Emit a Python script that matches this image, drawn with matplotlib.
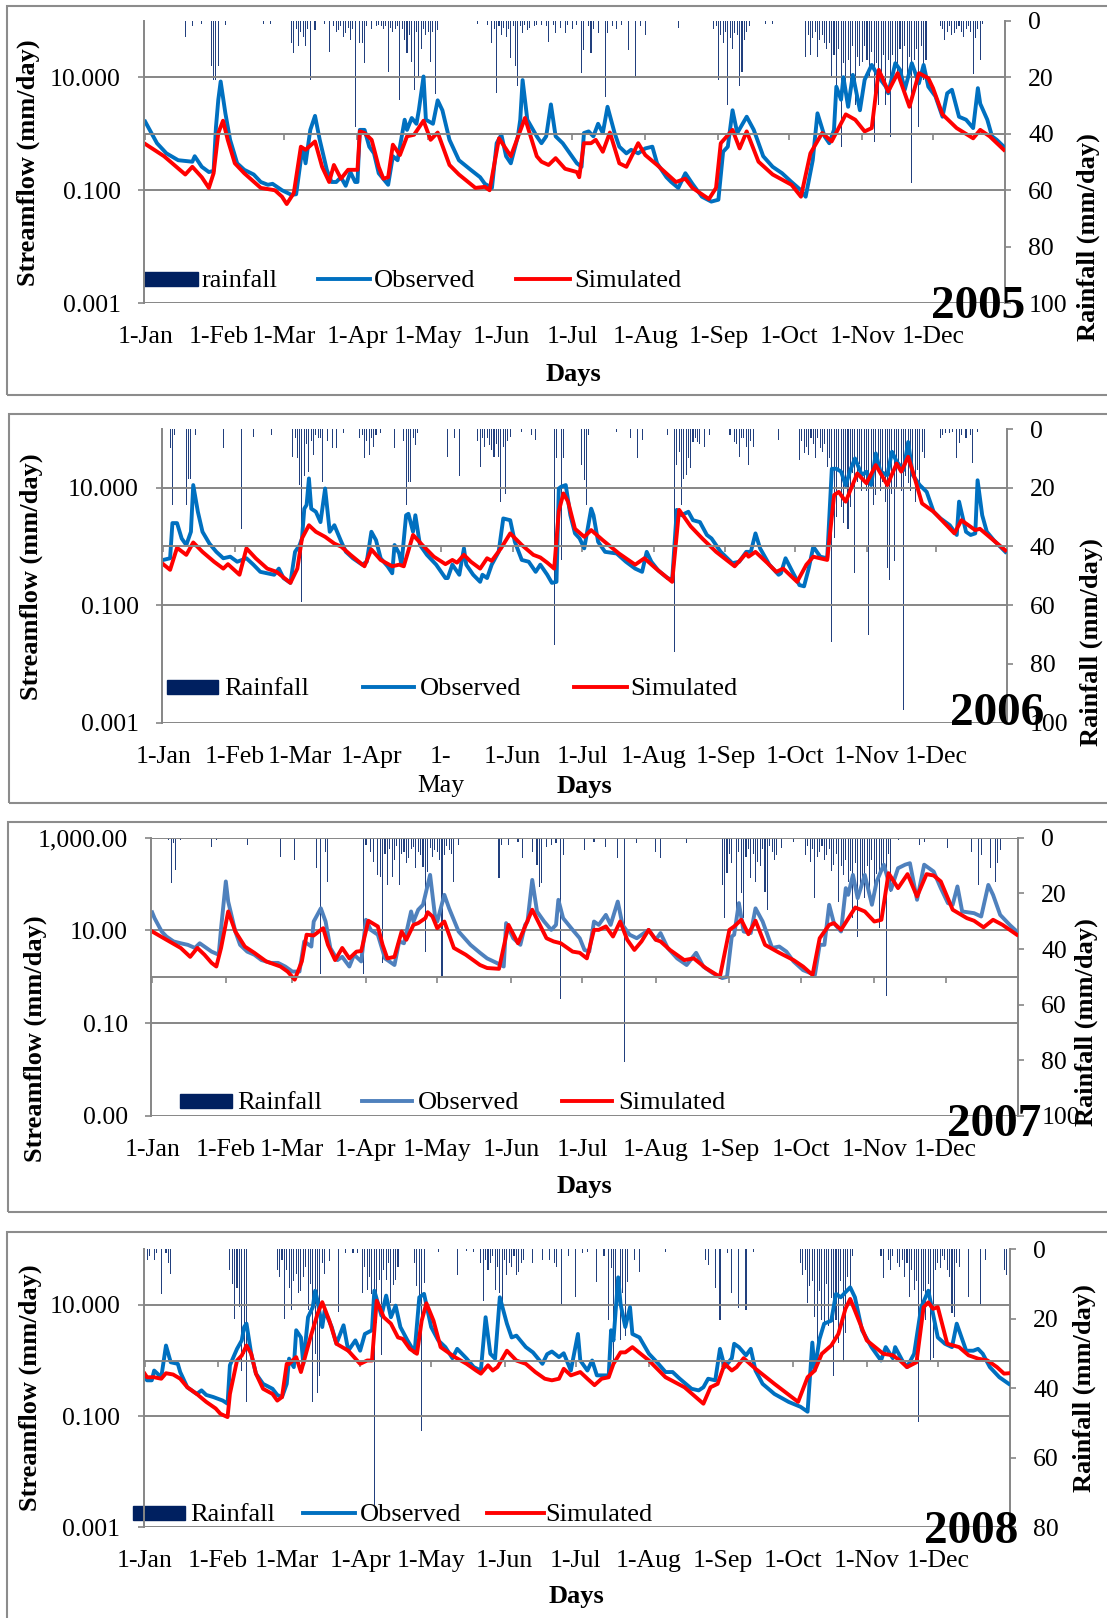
import matplotlib
matplotlib.use('Agg')
import matplotlib.pyplot as plt
import matplotlib.transforms as mtransforms
from matplotlib.patches import Rectangle
from matplotlib.lines import Line2D
from matplotlib.ticker import FixedLocator, NullLocator

plt.rcParams['font.family'] = ['Liberation Serif', 'DejaVu Serif']

# ---- data: (day of year from 1-Jan, value) ----
# streamflow in mm/day, rainfall in mm/day
obs05 = [(0,1.64),(5,0.68),(9,0.45),(14,0.34),(20,0.32),(21,0.40),(24,0.26),(27,0.21),(29,0.22),(30,1.3),(31,4.0),(32,8.4),(34,2.3),(36,0.78),(39,0.30),(42,0.23),(46,0.19),(49,0.14),(52,0.125),(54,0.13),(58,0.10),(62,0.083),(64,0.085),(66,0.35),(67,0.51),(68,0.30),(70,1.17),(72,2.07),(74,0.78),(77,0.23),(79,0.14),(81,0.14),(83,0.17),(85,0.12),(87,0.21),(89,0.14),(90,0.14),(91,1.17),(93,1.17),(95,0.59),(97,0.45),(99,0.20),(103,0.125),(105,0.40),(107,0.34),(110,1.77),(111,1.17),(113,1.9),(115,1.5),(116,2.6),(118,10.3),(119,1.77),(122,1.5),(124,3.9),(126,2.6),(129,0.78),(133,0.34),(138,0.23),(142,0.17),(144,0.13),(147,0.11),(149,0.68),(151,0.96),(153,0.40),(155,0.30),(158,0.90),(159,1.77),(160,8.9),(162,1.77),(166,0.90),(168,0.68),(170,0.90),(172,3.3),(174,0.90),(177,0.68),(180,0.45),(183,0.30),(185,0.26),(186,1.03),(188,1.1),(190,0.90),(192,1.5),(194,1.03),(196,3.0),(199,1.03),(201,0.59),(204,0.45),(206,0.52),(209,0.45),(212,0.55),(215,0.59),(217,0.30),(221,0.17),(223,0.14),(226,0.11),(229,0.20),(232,0.13),(236,0.077),(240,0.063),(243,0.068),(245,0.48),(247,0.59),(249,2.6),(251,1.03),(255,2.0),(258,1.17),(262,0.40),(266,0.26),(270,0.20),(274,0.14),(278,0.10),(280,0.077),(283,0.34),(285,2.3),(288,0.90),(290,0.68),(292,1.17),(293,6.8),(295,4.0),(296,10.0),(298,3.0),(300,11.0),(303,2.6),(305,9.0),(308,16.5),(311,10.0),(314,6.8),(315,5.2),(318,17.7),(320,13.5),(322,6.0),(325,17.7),(328,7.8),(330,16.5),(332,6.8),(335,4.6),(338,2.0),(340,5.2),(342,6.0),(345,2.0),(348,1.77),(351,1.26),(353,6.4),(354,3.4),(357,1.77),(359,0.90),(361,0.78),(364,0.59)]
sim05 = [(0,0.66),(8,0.40),(17,0.19),(20,0.26),(24,0.17),(27,0.11),(29,0.20),(31,1.03),(33,1.7),(35,0.78),(38,0.30),(42,0.20),(49,0.11),(55,0.10),(58,0.077),(60,0.057),(63,0.089),(66,0.59),(68,0.52),(72,0.73),(75,0.26),(78,0.14),(80,0.28),(83,0.16),(86,0.23),(90,0.23),(91,1.1),(93,1.03),(96,0.78),(99,0.26),(101,0.16),(103,0.17),(105,0.64),(108,0.42),(111,0.90),(114,0.96),(118,1.7),(121,0.78),(124,1.05),(129,0.28),(133,0.19),(140,0.11),(144,0.115),(146,0.10),(150,0.83),(155,0.40),(161,1.9),(166,0.40),(168,0.32),(171,0.28),(174,0.37),(178,0.24),(183,0.21),(184,0.17),(186,0.68),(189,0.68),(191,0.78),(194,0.48),(197,1.05),(201,0.30),(204,0.26),(209,0.68),(212,0.42),(217,0.28),(225,0.14),(229,0.16),(232,0.11),(239,0.07),(242,0.11),(244,0.68),(249,1.17),(252,0.55),(255,1.1),(260,0.32),(266,0.19),(274,0.125),(278,0.077),(282,0.45),(287,1.03),(291,0.73),(297,2.2),(301,1.77),(305,1.1),(308,1.26),(311,13.5),(315,5.6),(319,11.8),(324,3.0),(328,11.8),(332,9.6),(334,6.4),(338,2.2),(344,1.26),(351,0.83),(354,1.17),(358,0.90),(364,0.52)]
rain05 = [(17,5.7),(20,2),(24,1),(28,16),(29,21),(30,21),(31,16),(34,1.5),(50,1),(53,1),(62,8),(63,11.6),(64,3),(65,9),(66,4),(67,5.7),(68,9),(69,3),(70,21),(72,3.3),(76,1),(78,11),(80,2),(81,4),(82,3.3),(83,2),(84,5.7),(85,4.5),(86,2.5),(87,7),(88,3),(89,37.5),(91,8),(92,8),(93,15),(94,2),(96,3),(98,2),(99,1.5),(100,2),(101,3),(102,2),(103,18),(104,2.5),(105,4),(106,3),(107,2),(108,28),(109,3),(110,7),(111,11.6),(112,5),(113,14.5),(114,24.5),(115,4),(116,20),(117,10),(118,3),(119,5),(120,4),(121,14.5),(122,4),(123,26),(124,3.3),(141,1),(145,1.5),(147,8),(148,3),(149,25.7),(150,2),(151,5),(152,2.5),(153,5.7),(154,3),(155,13.3),(156,2),(157,16),(158,23),(159,2),(160,4.5),(161,1.5),(162,3.3),(163,2.5),(165,2),(166,1.5),(168,1.5),(170,2),(171,7.4),(173,1.5),(174,4.5),(176,2.5),(178,4.5),(179,1.5),(181,3),(183,1.5),(185,18.6),(186,10.4),(188,2),(189,11.6),(190,3),(192,4.5),(195,27),(196,4.5),(198,2),(200,3),(202,1.5),(205,10.4),(208,20),(210,2),(212,5),(226,2.7),(241,3),(242,2),(243,21),(244,5),(245,8),(246,4),(247,30),(248,6),(249,10),(250,4.5),(251,5),(252,23),(253,18),(254,7),(255,4),(256,2),(263,1),(266,1),(280,12.7),(281,5),(282,12),(283,6),(284,4),(285,12.7),(286,7),(287,5),(288,8),(289,10),(290,8),(291,20),(292,12),(293,25.7),(294,10),(295,44.6),(296,15),(297,23),(298,14),(299,28),(300,9),(301,30),(302,13),(303,16),(304,14.5),(305,9),(306,14),(307,20),(308,11),(309,43),(310,15),(311,30),(312,18),(313,12),(314,30),(315,14),(316,41),(317,12),(318,16),(319,18),(320,10),(321,21),(322,9),(323,21),(324,13),(325,57.5),(326,14),(327,10),(328,37.5),(329,9),(330,21),(331,14),(337,2),(338,3),(339,7),(340,4),(341,2),(342,5),(343,4.5),(344,3),(345,2),(346,4),(347,5.7),(348,3),(349,2),(350,4),(351,19),(352,6),(353,3),(354,14),(355,1)]

obs06 = [(0,0.59),(3,0.63),(4,2.5),(6,2.5),(8,1.37),(10,1.06),(12,1.78),(13,11.1),(15,3.9),(17,1.78),(20,1.12),(23,0.81),(26,0.63),(29,0.67),(32,0.55),(36,0.63),(39,0.49),(42,0.37),(45,0.35),(48,0.33),(50,0.42),(52,0.29),(55,0.24),(57,0.81),(59,1.06),(60,1.37),(61,4.4),(62,5.1),(63,14.4),(64,4.4),(66,3.9),(68,2.6),(70,9.7),(72,1.78),(74,2.3),(77,1.2),(79,0.81),(82,0.63),(86,0.49),(88,0.55),(90,1.78),(92,1.28),(94,0.63),(97,0.46),(99,0.35),(100,1.06),(102,0.76),(103,0.49),(105,3.4),(106,3.6),(108,1.78),(109,3.4),(111,1.06),(114,0.72),(118,0.49),(122,0.29),(123,0.29),(125,0.49),(128,0.33),(130,0.93),(131,0.49),(134,0.33),(137,0.25),(138,0.33),(140,0.29),(142,0.49),(145,0.81),(147,3.0),(150,2.8),(152,1.2),(155,0.59),(158,0.55),(161,0.37),(163,0.49),(166,0.33),(168,0.24),(170,0.25),(171,9.7),(172,10.4),(174,11.1),(176,3.4),(178,1.67),(180,1.37),(182,0.93),(185,4.4),(186,3.4),(188,1.2),(191,0.81),(196,0.76),(200,0.55),(204,0.42),(207,0.37),(209,0.81),(211,0.55),(214,0.39),(218,0.29),(220,0.27),(222,4.2),(224,3.4),(227,3.9),(229,2.8),(232,2.6),(235,1.57),(237,1.37),(241,0.81),(246,0.52),(249,0.55),(252,0.81),(254,0.81),(256,1.67),(258,0.93),(262,0.49),(266,0.33),(267,0.35),(269,0.63),(272,0.37),(275,0.22),(277,0.21),(279,0.42),(281,0.99),(284,0.67),(287,0.63),(289,21.0),(291,21.0),(293,18.8),(295,11.0),(297,20.0),(299,31.5),(302,16.4),(304,18.8),(306,11.1),(308,38.4),(310,18.8),(313,16.4),(315,41.0),(317,28.0),(320,20.0),(322,60.0),(324,16.4),(327,11.1),(330,8.5),(333,3.9),(336,3.0),(340,2.3),(343,1.57),(344,5.8),(347,1.78),(349,1.57),(351,1.67),(352,13.4),(354,3.4),(356,1.78),(359,1.28),(364,0.81)]
sim06 = [(0,0.50),(3,0.40),(6,0.95),(10,0.72),(13,1.17),(17,0.81),(22,0.55),(26,0.42),(28,0.50),(33,0.33),(36,0.93),(40,0.63),(45,0.42),(49,0.37),(55,0.24),(58,0.42),(60,1.37),(63,2.3),(66,1.78),(70,1.46),(74,1.12),(77,0.99),(81,0.72),(87,0.46),(90,0.89),(94,0.59),(99,0.46),(102,0.49),(104,0.46),(108,1.57),(112,1.06),(117,0.67),(122,0.50),(125,0.59),(127,0.53),(130,0.72),(133,0.55),(137,0.42),(140,0.63),(142,0.57),(146,0.93),(150,1.67),(155,1.06),(160,0.72),(163,0.65),(166,0.53),(169,0.42),(171,4.0),(173,8.0),(175,5.8),(178,2.0),(182,1.46),(185,1.9),(190,1.28),(197,0.76),(204,0.49),(208,0.63),(213,0.42),(220,0.25),(223,4.2),(228,2.2),(233,1.37),(239,0.81),(247,0.46),(252,0.76),(253,0.67),(256,0.81),(261,0.53),(265,0.37),(268,0.42),(274,0.25),(278,0.49),(281,0.67),(287,0.59),(290,7.5),(292,8.5),(295,5.8),(300,17.5),(304,11.9),(308,24.3),(313,11.1),(317,25.8),(319,18.8),(322,33.7),(324,18.8),(328,5.4),(333,3.9),(342,1.67),(345,2.8),(351,1.9),(353,2.0),(364,0.86)]
rain06 = [(3,6.6),(4,26),(5,2),(10,26),(11,17),(12,17),(14,2),(26,6.6),(34,34),(39,2.6),(47,2),(56,9.4),(57,3),(58,10),(59,19),(60,59),(61,16),(62,5),(63,14.5),(64,4),(65,8.9),(66,2),(67,3.2),(68,3),(69,18),(71,4),(73,6.6),(75,6.6),(78,1.5),(85,3),(86,2),(87,10),(88,4),(89,8.9),(90,3),(91,6),(92,2),(94,1.5),(100,6.6),(104,4),(105,26),(106,18),(107,18),(108,3),(109,5.4),(110,1.5),(123,9.4),(126,3.2),(128,16),(136,4),(137,12.8),(138,3.2),(139,6),(140,3),(141,5.4),(142,7),(143,9.4),(144,5),(145,9.4),(146,25),(147,6),(148,22),(149,4),(150,2.6),(155,1),(159,2),(161,3.7),(169,73.5),(170,10),(172,44.6),(173,10),(181,12.3),(182,17.4),(183,26),(184,2),(196,1),(202,3.2),(205,10),(207,3.7),(218,2),(221,76),(222,12.3),(223,8),(224,26),(225,17),(226,15.7),(227,10),(228,13.4),(229,4.3),(230,3),(231,4.3),(232,5),(234,6),(236,2),(245,2),(247,4.3),(248,5),(249,9.4),(250,3),(251,3.2),(252,6),(253,12.3),(254,4),(255,6),(266,3.7),(275,10.6),(276,4),(277,8.3),(278,6),(279,8.9),(280,3.2),(281,5),(282,10),(283,3),(284,6.6),(285,8),(286,5),(287,12.8),(288,10),(289,72.4),(290,37),(291,30),(292,14),(293,26.4),(294,32),(295,20),(296,34),(297,26.4),(298,15),(299,49),(300,18),(301,12),(302,21),(303,17),(304,21),(305,70),(306,16),(307,26),(308,22.5),(309,14),(310,21),(311,18),(312,25),(313,47.4),(314,51.4),(315,22),(316,45),(317,20),(318,14),(319,21),(320,95.7),(321,16),(322,18.5),(323,21),(324,12),(325,25),(326,14),(327,19),(328,8),(329,10),(336,3.2),(337,2),(338,1.5),(340,1.5),(341,1),(343,10),(344,4.9),(345,2),(347,3),(349,2),(350,11.7),(352,1)]

obs07 = [(0,24.5),(1,18.4),(4,9.5),(6,7.4),(9,5.8),(12,5.3),(15,4.9),(18,4.2),(20,5.3),(22,4.5),(25,3.5),(28,3.0),(29,11.2),(31,114),(32,42),(35,9.5),(37,4.9),(40,3.5),(43,3.0),(46,2.3),(50,2.0),(53,2.0),(56,1.67),(59,1.3),(62,1.3),(64,5.8),(67,4.5),(68,15.6),(71,30),(73,15.6),(75,4.2),(78,2.3),(80,2.7),(83,1.67),(85,3.0),(88,2.15),(90,17),(92,10.3),(95,8.1),(98,2.5),(102,1.8),(104,5.8),(106,5.3),(109,25.7),(110,15.6),(112,28),(114,35.8),(117,158),(119,21.7),(120,15.6),(123,58.6),(125,30),(129,9.5),(134,4.9),(138,3.3),(141,2.5),(145,2.0),(148,1.67),(149,14.4),(152,6.8),(155,4.9),(157,13.2),(158,15.6),(160,123),(162,25.7),(165,15.6),(168,10.3),(170,13.2),(171,45.8),(173,18.4),(177,10.3),(180,6.8),(182,3.8),(184,3.5),(186,15.6),(188,13.2),(191,21.7),(193,13.2),(196,42),(198,13.2),(201,8.1),(204,6.8),(209,10.3),(212,6.3),(214,8.8),(217,4.2),(221,2.5),(225,1.8),(229,3.3),(232,1.67),(236,1.2),(240,0.94),(242,1.0),(244,7.4),(245,8.1),(247,38.9),(249,9.5),(252,8.8),(254,30),(257,15.6),(261,4.2),(264,4.5),(267,3.5),(270,2.15),(274,1.4),(279,1.1),(281,4.9),(283,4.9),(285,35.8),(287,14.4),(290,9.5),(292,81.8),(293,58.6),(295,158),(297,49.7),(300,158),(303,35.8),(305,114),(308,262),(311,75),(314,220),(317,262),(319,282),(322,45.8),(325,262),(327,220),(329,186),(332,81.8),(335,38.9),(337,35.8),(339,89),(341,25.7),(346,23.6),(349,20),(352,96),(354,58.6),(357,21.7),(361,13.2),(364,9.5)]
sim07 = [(0,9.5),(6,6.3),(12,4.2),(16,2.7),(19,4.2),(22,3.0),(25,2.0),(27,1.67),(29,4.2),(32,25.7),(35,9.5),(39,4.5),(43,3.3),(48,2.15),(54,1.67),(57,1.3),(60,0.87),(63,2.15),(65,8.1),(68,7.8),(72,11.2),(74,4.9),(77,2.3),(80,4.2),(83,2.5),(86,3.5),(88,3.6),(91,16.2),(95,12.2),(97,4.9),(99,2.5),(102,2.7),(105,9.5),(107,6.3),(110,13.2),(112,14.4),(115,18.4),(116,24.8),(118,20),(120,11.2),(123,15.6),(127,4.2),(132,3.0),(138,1.8),(141,1.55),(146,1.49),(150,13.2),(154,5.3),(160,28),(166,6.8),(169,5.8),(172,5.3),(177,3.5),(180,3.3),(183,2.5),(186,10.3),(188,10.3),(191,12.2),(194,7.4),(197,15.6),(200,6.3),(203,3.8),(206,5.8),(209,10.3),(212,6.3),(214,5.8),(218,3.8),(224,2.3),(228,2.5),(233,1.55),(239,1.0),(243,10.3),(245,12.2),(248,17),(251,8.3),(254,16.2),(258,4.9),(264,3.3),(270,2.3),(274,1.67),(278,1.1),(281,6.8),(285,13.2),(287,14.4),(290,10.3),(296,31.3),(300,25.7),(304,15.6),(307,17),(310,172),(314,81.8),(318,164),(322,54),(326,164),(329,153),(332,114),(337,28),(343,18.4),(346,16.2),(350,11.7),(354,17),(358,13.2),(364,8.1)]
rain07 = [(7,1),(8,16.4),(9,2),(10,11.6),(12,1),(25,3.2),(27,1),(40,2.6),(54,6.8),(60,8),(69,11),(71,49),(73,5),(74,15.8),(89,49),(90,2.6),(92,5),(93,8.6),(95,13.4),(96,14),(97,45),(98,6),(99,17),(100,4),(101,14),(102,8),(103,3),(104,17),(105,6),(106,5),(107,9),(108,7.4),(109,4),(110,3.2),(111,11),(112,5),(113,6.2),(114,10.4),(115,41),(116,12.2),(117,3.8),(118,7),(119,4.4),(120,5),(121,8),(122,50),(123,6.2),(124,3),(125,4.4),(126,6),(127,15.8),(129,2.6),(146,14.6),(147,2.6),(150,2.6),(154,1.4),(156,7.4),(160,5),(162,9.8),(163,17.6),(164,16.4),(166,3.2),(168,2.6),(170,2),(172,58),(173,6.2),(182,4.4),(186,1.4),(191,3.2),(196,7.4),(199,80.5),(204,2),(212,5),(214,7.4),(225,2),(240,17),(241,29),(242,12.8),(243,6),(244,9),(246,26.6),(247,5),(248,20),(249,29),(250,7),(251,4),(252,14.6),(253,6),(254,15.8),(255,8.6),(256,10),(257,4),(258,19.4),(259,26),(260,3),(261,5),(262,8),(263,6.2),(265,3.8),(270,1.4),(275,6.2),(276,3),(277,8.6),(278,4),(279,21.8),(280,7),(281,5),(282,3),(283,8),(284,6.2),(285,4),(286,12),(287,9.8),(288,6),(289,23),(290,10),(291,13.4),(292,8),(293,15.8),(294,12),(295,29),(296,9),(297,35.6),(298,17),(299,14),(300,21.8),(301,10),(302,19.4),(303,8),(304,21.8),(305,13),(306,32.6),(307,11),(308,9),(309,57),(310,6),(311,19.4),(314,1),(323,2.6),(325,1.4),(335,3.8),(345,5),(348,17),(349,6.2),(353,11),(355,15.8),(356,9.2),(357,4.4)]

obs08 = [(0,0.50),(1,0.44),(3,0.44),(4,0.66),(7,0.50),(9,1.86),(11,0.93),(14,0.87),(15,0.62),(18,0.33),(22,0.25),(24,0.29),(26,0.24),(29,0.22),(33,0.19),(35,0.167),(36,0.82),(39,1.62),(41,2.3),(42,4.0),(43,4.6),(45,1.32),(47,0.58),(50,0.38),(54,0.31),(56,0.24),(58,0.22),(60,0.38),(61,1.08),(63,0.76),(64,3.5),(66,2.6),(67,0.87),(69,6.0),(71,9.1),(72,18),(73,11.9),(75,4.0),(76,7.9),(79,4.0),(81,2.0),(84,4.3),(86,1.5),(89,2.3),(91,1.5),(93,3.0),(96,3.5),(97,18),(100,6.4),(102,14.7),(104,6.0),(106,9.7),(108,4.0),(111,2.3),(114,1.4),(116,13.7),(118,15.8),(121,4.0),(124,2.3),(127,1.74),(130,1.1),(132,1.62),(136,1.08),(139,0.76),(142,0.66),(144,6.0),(146,1.32),(148,1.08),(150,13.7),(153,4.6),(155,2.6),(157,2.8),(161,1.74),(164,1.4),(168,0.87),(170,1.3),(172,1.45),(175,1.15),(177,1.35),(180,0.66),(183,3.0),(184,1.0),(187,0.66),(189,1.0),(191,0.54),(193,0.54),(196,0.54),(197,3.5),(198,2.3),(200,31.3),(201,10.4),(203,4.0),(205,9.1),(206,3.0),(209,2.6),(213,1.32),(217,0.87),(220,0.62),(223,0.62),(226,0.47),(231,0.31),(234,0.29),(236,0.33),(238,0.47),(241,0.44),(243,1.62),(245,0.76),(248,1.1),(249,2.0),(251,1.74),(254,1.24),(256,1.62),(258,0.66),(261,0.38),(266,0.25),(272,0.18),(277,0.147),(280,0.12),(282,2.1),(283,0.66),(285,2.4),(287,4.6),(290,5.2),(292,15.8),(294,13.7),(296,16.9),(298,20.7),(300,13.7),(303,3.5),(307,1.74),(311,1.0),(313,1.74),(316,1.1),(317,1.74),(320,1.0),(322,0.76),(325,1.32),(328,9.1),(331,18),(333,6.9),(335,2.6),(338,2.0),(341,1.74),(343,4.6),(347,1.5),(350,1.5),(352,1.62),(354,1.32),(357,0.76),(361,0.50),(365,0.38)]
sim08 = [(0,0.58),(1,0.50),(4,0.50),(7,0.47),(9,0.59),(12,0.56),(15,0.47),(18,0.33),(22,0.25),(26,0.18),(30,0.137),(32,0.11),(35,0.096),(36,0.25),(39,1.0),(41,1.23),(43,1.86),(45,1.32),(47,0.58),(50,0.31),(54,0.25),(56,0.19),(58,0.22),(60,0.87),(61,0.87),(64,1.15),(66,0.62),(70,2.6),(73,6.9),(75,11.2),(78,5.2),(81,2.0),(86,1.5),(91,0.87),(94,1.0),(96,1.0),(98,11.9),(101,6.0),(104,4.6),(107,2.6),(109,2.45),(112,1.62),(115,1.32),(117,5.2),(119,10.7),(122,5.2),(125,1.74),(131,1.15),(136,0.87),(140,0.66),(142,0.58),(145,0.82),(147,0.66),(149,0.76),(153,1.5),(157,1.0),(161,0.87),(165,0.62),(169,0.47),(172,0.44),(175,0.47),(177,0.71),(180,0.54),(184,0.62),(187,0.47),(190,0.36),(193,0.47),(196,0.50),(198,0.87),(201,1.4),(203,1.4),(206,1.74),(213,1.0),(220,0.50),(228,0.33),(236,0.167),(239,0.33),(242,0.38),(245,0.87),(248,0.66),(250,0.76),(253,1.1),(258,0.71),(266,0.38),(276,0.18),(280,0.50),(283,0.66),(286,1.32),(290,1.86),(293,3.0),(296,8.5),(298,12.8),(300,7.9),(305,2.3),(312,1.32),(316,1.24),(319,1.0),(322,0.76),(326,0.93),(329,9.1),(331,11.1),(333,8.5),(335,9.1),(339,2.0),(344,1.74),(348,1.24),(352,1.08),(356,1.0),(360,0.76),(363,0.58),(365,0.59)]
rain08 = [(1,3),(2,2),(4,3),(5,1),(7,13),(9,1.2),(10,4),(11,7),(36,6),(37,10),(38,20),(39,11),(40,16.5),(41,35),(42,30),(43,44),(56,6),(57,8),(58,3),(59,20),(60,6),(61,11),(62,17.5),(63,9),(64,7),(65,12.7),(66,12),(67,8),(68,5),(69,17.5),(70,10),(71,44),(72,30),(73,41.4),(74,36.6),(75,4),(76,7),(78,3.5),(82,18),(85,1.2),(88,1.2),(90,1.2),(92,12.7),(93,5),(94,11.7),(95,8),(96,13),(97,73.5),(98,21.3),(99,8.8),(100,30.4),(101,6),(102,8.8),(103,4),(104,15.5),(105,10.3),(106,8.8),(107,5),(114,4),(115,10.7),(116,16.5),(117,52.4),(118,9.8),(124,0.7),(132,7.4),(136,0.5),(139,0.7),(142,4),(143,15),(144,3),(145,6),(146,4),(147,2),(148,11.7),(149,5),(150,12.7),(151,15.5),(152,3),(153,7.4),(154,4),(155,5),(156,2),(157,7.4),(158,6.4),(159,4),(160,3),(164,4),(168,3),(171,3),(173,4),(174,5),(176,16),(179,2),(182,13.6),(185,1.2),(187,0.7),(191,9.3),(194,2),(196,20.3),(197,5.5),(198,33.7),(199,18.4),(201,26),(202,12.7),(203,25),(204,9.3),(207,3),(209,6.4),(220,0.7),(237,3),(238,4.5),(241,11.2),(243,20.3),(246,1.2),(248,12.7),(251,17),(254,17.5),(257,0.7),(277,4),(278,7.4),(279,6),(280,15.5),(281,10.7),(282,9),(283,19.4),(284,27),(285,12),(286,20.3),(287,21.3),(288,10),(289,22.2),(290,14),(291,36.6),(292,20.3),(293,27),(294,9),(295,32.3),(296,24.2),(297,8),(298,11.7),(299,2),(311,2),(312,8.3),(314,3),(315,6),(316,2),(318,4),(319,5),(320,3),(321,7.9),(322,4),(323,13.6),(324,6),(325,11.7),(326,9),(327,49.6),(328,15.5),(329,12),(330,20.3),(331,10),(332,31.8),(333,31.4),(334,6),(335,4),(336,5.5),(337,2),(338,3),(339,6),(340,8),(341,18.4),(342,19.4),(343,4),(344,5),(348,13.6),(353,16),(355,3),(363,6),(364,7.4)]

months = ['1-Jan', '1-Feb', '1-Mar', '1-Apr', '1-May', '1-Jun',
          '1-Jul', '1-Aug', '1-Sep', '1-Oct', '1-Nov', '1-Dec']
months06 = months[:4] + ['1-\nMay'] + months[5:]
month_start = [0, 31, 59, 90, 120, 151, 181, 212, 243, 273, 304, 334]
month_start_leap = [0, 31, 60, 91, 121, 152, 182, 213, 244, 274, 305, 335]

# ---- layout (pixel positions on the 1107x1618 canvas) ----
W, H = 1107, 1618
GREY = '#868686'
NAVY = '#002060'
BARC = '#22407e'
RED = '#ff0000'
FS = 18.5
LW = 2.8


def fx(x):
    return x / W


def fy(y):
    return 1 - y / H


panels = [
    dict(year='2005', obs=obs05, sim=sim05, rain=rain05, ndays=365, starts=month_start, labels=months,
         ytop=100, yticks=[0.001, 0.1, 10], ylabels=['0.001', '0.100', '10.000'],
         rticks=[0, 20, 40, 60, 80, 100], rname='rainfall', obs_color='#0070c0',
         box=(6.7, 6, 395), plot=(144, 20.7, 1005, 303.3),
         ylab=(28, 163), rlab=(1088, 237), days=(573, 374), yr=(978, 318),
         leg=(279, (144, 198), 202, (318, 370), 374, (516, 570), 574)),
    dict(year='2006', obs=obs06, sim=sim06, rain=rain06, ndays=365, starts=month_start, labels=months06,
         ytop=100, yticks=[0.001, 0.1, 10], ylabels=['0.001', '0.100', '10.000'],
         rticks=[0, 20, 40, 60, 80, 100], rname='Rainfall', obs_color='#0070c0',
         box=(9, 414, 802.7), plot=(162, 429, 1006.5, 722.7),
         ylab=(31, 577), rlab=(1091.5, 642), days=(584, 786), yr=(997, 725),
         leg=(687, (167, 218), 224, (362.5, 414), 420, (574, 627), 630)),
    dict(year='2007', obs=obs07, sim=sim07, rain=rain07, ndays=365, starts=month_start, labels=months,
         ytop=1000, yticks=[0.001, 0.1, 10, 1000], ylabels=['0.00', '0.10', '10.00', '1,000.00'],
         rticks=[0, 20, 40, 60, 80, 100], rname='Rainfall', obs_color='#4f81bd',
         box=(8, 822.3, 1211.7), plot=(151, 837.7, 1018, 1116),
         ylab=(35, 1039), rlab=(1086, 1022), days=(584, 1186), yr=(994, 1136),
         leg=(1101, (180, 232), 237, (362, 412.5), 418, (562, 612), 618)),
    dict(year='2008', obs=obs08, sim=sim08, rain=rain08, ndays=366, starts=month_start_leap, labels=months,
         ytop=100, yticks=[0.001, 0.1, 10], ylabels=['0.001', '0.100', '10.000'],
         rticks=[0, 20, 40, 60, 80], rname='Rainfall', obs_color='#0070c0',
         box=(7.4, 1231.7, 1640), plot=(143.5, 1249.3, 1010, 1527.3),
         ylab=(30, 1388), rlab=(1084, 1388), days=(576, 1597), yr=(971, 1543),
         leg=(1513, (133, 185), 190.5, (302.6, 355), 359.6, (486.5, 544), 545.7)),
]

fig = plt.figure(figsize=(W / 100, H / 100), dpi=100)

for p in panels:
    bl, bt, bb = p['box']
    fig.add_artist(Rectangle((fx(bl), fy(bb)), (1120 - bl) / W, (bb - bt) / H, fill=False,
                             ec='#8c8c8c', lw=1.5, transform=fig.transFigure))

    l, t, r, b = p['plot']
    ax = fig.add_axes([fx(l), fy(b), (r - l) / W, (b - t) / H])

    # rainfall on a secondary, inverted axis, kept underneath the flow lines
    ax2 = ax.twinx()
    d, mm = zip(*p['rain'])
    ax2.bar(d, mm, width=0.45, color=BARC, linewidth=0)
    ax2.set_ylim(p['rticks'][-1], 0)
    ax2.set_yticks(p['rticks'])
    ax2.set_yticklabels([str(v) for v in p['rticks']])
    for s in ['top', 'bottom', 'left']:
        ax2.spines[s].set_visible(False)
    ax2.spines['right'].set_color(GREY)
    ax2.spines['right'].set_linewidth(1.4)
    ax2.tick_params(axis='y', direction='out', length=4.3, width=1.2, color=GREY,
                    labelsize=FS, pad=12.5)

    ax.set_zorder(ax2.get_zorder() + 1)
    ax.patch.set_visible(False)

    d, q = zip(*p['obs'])
    ax.plot(d, q, color=p['obs_color'], lw=LW)
    d, q = zip(*p['sim'])
    ax.plot(d, q, color=RED, lw=LW)

    ax.set_yscale('log')
    ax.set_ylim(0.001, p['ytop'])
    ax.yaxis.set_major_locator(FixedLocator(p['yticks']))
    ax.yaxis.set_minor_locator(NullLocator())
    ax.set_yticklabels(p['ylabels'])
    ax.grid(axis='y', color=GREY, lw=1.4)
    ax.set_axisbelow(True)
    for s in ['top', 'right']:
        ax.spines[s].set_visible(False)
    ax.spines['left'].set_color(GREY)
    ax.spines['left'].set_linewidth(1.4)
    ax.spines['bottom'].set_position(('data', 1))
    ax.spines['bottom'].set_color(GREY)
    ax.spines['bottom'].set_linewidth(1.4)
    ax.set_xticks(p['starts'])
    ax.tick_params(axis='x', direction='out', length=4.3, width=1.2, color=GREY, labelbottom=False)
    ax.tick_params(axis='y', direction='out', length=4.3, width=1.2, color=GREY,
                   labelsize=FS, pad=12.5)
    ax.set_xlim(-0.5, p['ndays'] - 0.5)

    # month labels sit at the bottom although the axis line crosses at 1
    for m, lab in zip(p['starts'], p['labels']):
        for k, line in enumerate(lab.split('\n')):
            tr = mtransforms.offset_copy(ax.get_xaxis_transform(), fig=fig,
                                         y=-(40 + 29 * k), units='dots')
            ax.text(m, 0, line, transform=tr, ha='center', va='baseline', fontsize=FS)

    fig.text(fx(p['ylab'][0]), fy(p['ylab'][1]), 'Streamflow (mm/day)', rotation=90,
             ha='center', va='center', fontsize=19, fontweight='bold')
    fig.text(fx(p['rlab'][0]), fy(p['rlab'][1]), 'Rainfall (mm/day)', rotation=90,
             ha='center', va='center', fontsize=19, fontweight='bold')
    fig.text(fx(p['days'][0]), fy(p['days'][1]), 'Days', ha='center', va='center',
             fontsize=19, fontweight='bold')
    fig.text(fx(p['yr'][0]), fy(p['yr'][1]), p['year'], ha='center', va='baseline',
             fontsize=34, fontweight='bold')

    # legend row
    ly, (px0, px1), tx1, (ox0, ox1), tx2, (sx0, sx1), tx3 = p['leg']
    fig.add_artist(Rectangle((fx(px0), fy(ly + 7)), (px1 - px0) / W, 14 / H, color=NAVY,
                             transform=fig.transFigure))
    fig.add_artist(Line2D([fx(ox0), fx(ox1)], [fy(ly), fy(ly)], color=p['obs_color'], lw=LW,
                          transform=fig.transFigure))
    fig.add_artist(Line2D([fx(sx0), fx(sx1)], [fy(ly), fy(ly)], color=RED, lw=LW,
                          transform=fig.transFigure))
    for tx, s in [(tx1, p['rname']), (tx2, 'Observed'), (tx3, 'Simulated')]:
        fig.text(fx(tx), fy(ly + 8), s, ha='left', va='baseline', fontsize=19)

fig.savefig('out.png', dpi=100)
